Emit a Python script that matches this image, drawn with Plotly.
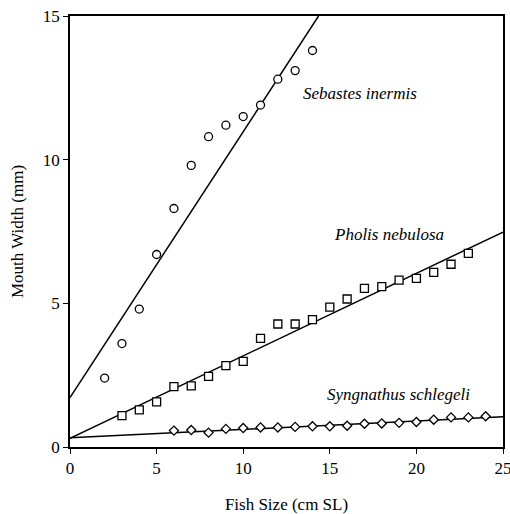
import plotly.graph_objects as go

# Sebastes inermis
seb_x = [2, 3, 4, 5, 6, 7, 8, 9, 10, 11, 12, 13, 14]
seb_y = [2.4, 3.6, 4.8, 6.7, 8.3, 9.8, 10.8, 11.2, 11.5, 11.9, 12.8, 13.1, 13.8]
seb_fit_x = [0, 14.35]
seb_fit_y = [1.72, 15.0]

# Pholis nebulosa
pho_x = [3, 4, 5, 6, 7, 8, 9, 10, 11, 12, 13, 14, 15, 16, 17, 18, 19, 20, 21, 22, 23]
pho_y = [1.09, 1.29, 1.57, 2.10, 2.13, 2.46, 2.83, 2.98, 3.78, 4.28, 4.28, 4.43,
         4.87, 5.15, 5.52, 5.58, 5.81, 5.87, 6.08, 6.36, 6.74]
pho_fit_x = [0, 25]
pho_fit_y = [0.30, 7.48]

# Syngnathus schlegeli
syn_x = [6, 7, 8, 9, 10, 11, 12, 13, 14, 15, 16, 17, 18, 19, 20, 21, 22, 23, 24]
syn_y = [0.57, 0.59, 0.50, 0.63, 0.66, 0.68, 0.68, 0.70, 0.72, 0.72, 0.74, 0.81,
         0.82, 0.84, 0.87, 0.95, 1.03, 1.03, 1.07]
syn_fit_x = [0, 25]
syn_fit_y = [0.32, 1.05]

x_ticks = [0, 5, 10, 15, 20, 25]
y_ticks = [0, 5, 10, 15]

labels = ["Sebastes inermis", "Pholis nebulosa", "Syngnathus schlegeli"]
label_x = [16.75, 18.4, 18.95]
label_y = [12.32, 7.38, 1.81]

FONT = "Liberation Serif, Times New Roman, serif"

fig = go.Figure()
for fx, fy in [(seb_fit_x, seb_fit_y), (pho_fit_x, pho_fit_y), (syn_fit_x, syn_fit_y)]:
    fig.add_trace(go.Scatter(x=fx, y=fy, mode="lines",
                             line=dict(color="black", width=1.5), showlegend=False))
fig.add_trace(go.Scatter(x=seb_x, y=seb_y, mode="markers",
                         marker=dict(symbol="circle", size=8, color="white",
                                     line=dict(color="black", width=1.3)),
                         showlegend=False))
fig.add_trace(go.Scatter(x=pho_x, y=pho_y, mode="markers",
                         marker=dict(symbol="square", size=8, color="white",
                                     line=dict(color="black", width=1.3)),
                         showlegend=False))
fig.add_trace(go.Scatter(x=syn_x, y=syn_y, mode="markers",
                         marker=dict(symbol="diamond", size=7, color="white",
                                     line=dict(color="black", width=1.3)),
                         showlegend=False))

for t, lx, ly in zip(labels, label_x, label_y):
    fig.add_annotation(x=lx, y=ly, text=f"<i>{t}</i>", showarrow=False,
                       font=dict(family=FONT, size=17, color="black"))

fig.update_xaxes(range=[0, 25], tickvals=x_ticks, ticks="outside", ticklen=5,
                 tickwidth=1.2, tickcolor="black", showline=True, linecolor="black",
                 linewidth=1.5, mirror=True, showgrid=False, zeroline=False,
                 automargin=False, ticklabeloverflow="allow",
                 tickfont=dict(family=FONT, size=17, color="black"),
                 title=dict(text="Fish Size (cm SL)", standoff=28,
                            font=dict(family=FONT, size=17, color="black")))
fig.update_yaxes(range=[0, 15], tickvals=y_ticks, ticks="outside", ticklen=5,
                 tickwidth=1.2, tickcolor="black", showline=True, linecolor="black",
                 linewidth=1.5, mirror=True, showgrid=False, zeroline=False,
                 automargin=False, ticklabeloverflow="allow",
                 tickfont=dict(family=FONT, size=17, color="black"),
                 title=dict(text="Mouth Width (mm)", standoff=15,
                            font=dict(family=FONT, size=17, color="black")))
fig.update_layout(width=510, height=514, margin=dict(l=70, r=7, t=16, b=67),
                  plot_bgcolor="white", paper_bgcolor="white")
fig.write_html("out.html")
